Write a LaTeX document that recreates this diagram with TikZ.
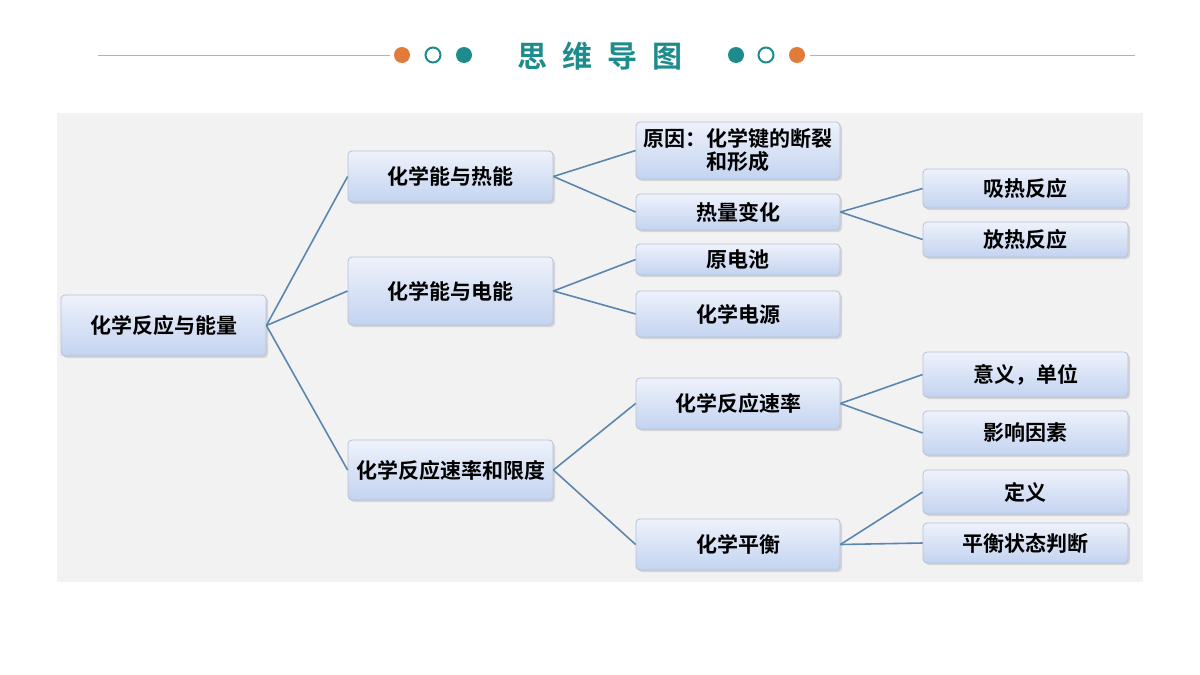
\documentclass[tikz,border=0pt]{standalone}
\usepackage{fontspec}
\setmainfont{Noto Sans CJK SC}
\newfontfamily\cjkb{Noto Sans CJK SC Bold}
\usetikzlibrary{shadows}
\definecolor{teal1}{HTML}{1E8C8C}
\definecolor{orng}{HTML}{E07B39}
\definecolor{edge}{HTML}{5A86B0}
\definecolor{boxtop}{HTML}{EEF2FB}
\definecolor{boxbot}{HTML}{C3D3F0}
\tikzset{
  box/.style={draw=boxbot!80!gray, rounded corners=2pt, top color=boxtop, bottom color=boxbot,
    drop shadow={opacity=0.25, shadow xshift=1pt, shadow yshift=-1pt},
    font=\cjkb\fontsize{10.5}{11.5}\selectfont, align=center, inner sep=0pt},
  link/.style={edge, line width=0.8pt}
}
\newcommand{\bx}[6]{\node[box, minimum width=#3*0.5pt-#2*0.5pt, minimum height=#5*0.5pt-#4*0.5pt]
  (#1) at ({(#2+#3)/2},{(#4+#5)/2}) {#6};}
\begin{document}
\begin{tikzpicture}[x=0.5pt,y=-0.5pt]
  \useasboundingbox (0,0) rectangle (1200,675);
  \fill[white] (0,0) rectangle (1200,675);
  % title
  \draw[gray!60, line width=0.4pt] (98,55) -- (390,55);
  \draw[gray!60, line width=0.4pt] (810,55) -- (1135,55);
  \foreach \x/\c in {402/orng, 464/teal1, 736/teal1, 797/orng}
    \fill[\c] (\x,55) circle (8);
  \foreach \x in {433, 766}
    \draw[teal1, line width=1pt] (\x,55) circle (7.5);
  \node[text=teal1, font=\cjkb\fontsize{15}{16}\selectfont] (title) at (600,56) {思\,\,\,维\,\,\,导\,\,\,图};
  % panel
  \fill[gray!10] (57,113) rectangle (1143,582);

  \bx{root}{61}{266}{295}{356}{化学反应与能量}
  \bx{heat}{348}{553}{151}{202}{化学能与热能}
  \bx{elec}{348}{553}{257}{325}{化学能与电能}
  \bx{rate}{348}{553}{440}{500}{化学反应速率和限度}

  \bx{cause}{636}{840}{122}{179}{原因：化学键的断裂\\和形成}
  \bx{dq}{636}{840}{194}{230}{热量变化}
  \bx{cell}{636}{840}{244}{275}{原电池}
  \bx{src}{636}{840}{291}{337}{化学电源}
  \bx{speed}{636}{840}{378}{429}{化学反应速率}
  \bx{eq}{636}{840}{519}{570}{化学平衡}

  \bx{endo}{923}{1128}{169}{208}{吸热反应}
  \bx{exo}{923}{1128}{222}{257}{放热反应}
  \bx{mean}{923}{1128}{352}{397}{意义，单位}
  \bx{fact}{923}{1128}{411}{455}{影响因素}
  \bx{defn}{923}{1128}{470}{514}{定义}
  \bx{judge}{923}{1128}{523}{563}{平衡状态判断}

  \foreach \a/\b in {root/heat, root/elec, root/rate, heat/cause, heat/dq, elec/cell, elec/src,
      rate/speed, rate/eq, dq/endo, dq/exo, speed/mean, speed/fact, eq/defn, eq/judge}
    \draw[link] (\a.east) -- (\b.west);
\end{tikzpicture}
\end{document}
